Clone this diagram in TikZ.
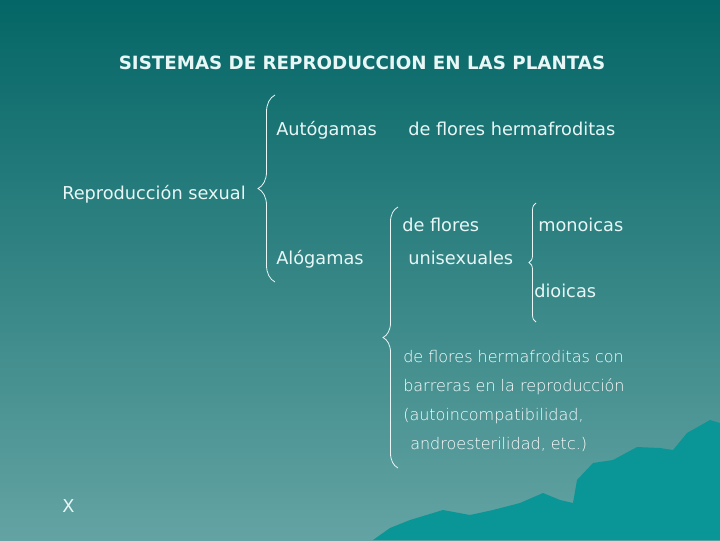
\documentclass[tikz,border=0pt]{standalone}
\usepackage{fontspec}
\setmainfont{DejaVu Sans}
\newfontfamily\finafont{DejaVu Sans ExtraLight}
\usetikzlibrary{decorations.pathreplacing}

\definecolor{fondoalto}{RGB}{4,102,102}
\definecolor{fondobajo}{RGB}{100,163,163}
\definecolor{monte}{RGB}{10,150,150}
\definecolor{texto}{RGB}{232,246,246}

\begin{document}
\begin{tikzpicture}[
  x=0.75pt, y=-0.75pt,
  texto/.style={text=texto, anchor=west, inner sep=0pt, font=\fontsize{13.3}{15}\selectfont,
                text height=0.75em, text depth=0.2em, yshift=-2pt},
  fino/.style={texto, text=white, font=\finafont\fontsize{12}{14}\selectfont},
  titulo/.style={texto, anchor=center, font=\bfseries\fontsize{13.7}{15}\selectfont},
  llave/.style={decorate, decoration={brace, amplitude=#1}, draw=texto, line width=0.6pt},
]
\useasboundingbox (0,0) rectangle (720,540);

% ---- Fondo y montes -------------------------------------------------------
\shade[top color=fondoalto, bottom color=fondobajo] (0,0) rectangle (720,540);
\fill[monte] (373,540) -- (390,528) -- (410,520) -- (443,510) -- (470,515) -- (493,510)
  -- (520,503) -- (543,493) -- (560,500) -- (573,503) -- (577,480) -- (593,463)
  -- (613,460) -- (637,447) -- (660,448) -- (673,450) -- (687,433) -- (710,420)
  -- (720,423) -- (720,540) -- cycle;

% ---- Titulo ---------------------------------------------------------------
\node[titulo] (titulo) at (362,63) {SISTEMAS DE REPRODUCCION EN LAS PLANTAS};

% ---- Primer nivel ---------------------------------------------------------
\node[texto] (sexual) at (62,193) {Reproducción sexual};
\node[texto] (auto) at (276,129) {Autógamas};
\node[texto] (alo) at (276,258) {Alógamas};

% ---- Segundo nivel --------------------------------------------------------
\node[texto] (herma) at (408,129) {de flores hermafroditas};
\node[texto] (deflores) at (402,225) {de flores};
\node[texto] (unisex) at (408,258) {unisexuales};
\node[texto] (mono) at (538,225) {monoicas};
\node[texto] (dio) at (534,291) {dioicas};

% ---- Hermafroditas con barreras -------------------------------------------
\node[fino] (barr1) at (403,356) {de flores hermafroditas con};
\node[fino] (barr2) at (403,385) {barreras en la reproducción};
\node[fino] (barr3) at (403,414) {(autoincompatibilidad,};
\node[fino] (barr4) at (410,443) {androesterilidad, etc.)};

\node[texto] (equis) at (62,506) {X};

% ---- Llaves ---------------------------------------------------------------
\coordinate (ll1a) at (275,95);  \coordinate (ll1b) at (275,282);
\coordinate (ll2a) at (398,207); \coordinate (ll2b) at (398,468);
\coordinate (ll3a) at (536,203); \coordinate (ll3b) at (536,322);
\draw[llave=12.75pt] (ll1b) -- (ll1a);
\draw[llave=11.25pt] (ll2b) -- (ll2a);
\draw[llave=5.25pt]  (ll3b) -- (ll3a);

\end{tikzpicture}
\end{document}
